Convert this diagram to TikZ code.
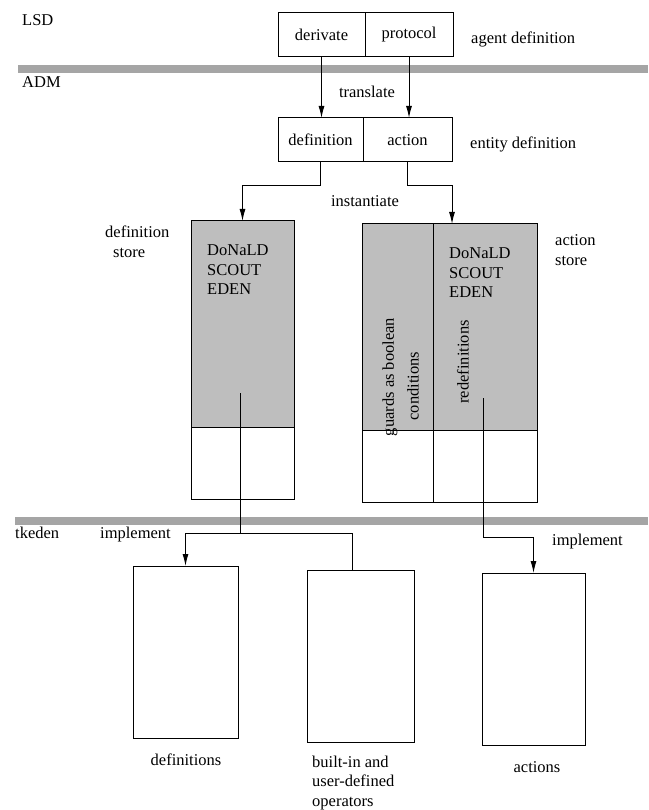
\documentclass[tikz,border=0pt]{standalone}
\usepackage{fontspec}
\setmainfont{Liberation Serif}
\usetikzlibrary{arrows.meta, math, positioning}
\definecolor{mygray}{RGB}{165,165,165}
\definecolor{mystore}{RGB}{190,190,190}

\begin{document}
\begin{tikzpicture}[x=1pt,y=-1pt,
  font=\fontsize{16.5}{19.5}\selectfont,
  box/.style={draw, line width=1, inner sep=0, outer sep=0, minimum height=44pt},
  cell/.style={draw, line width=1, inner sep=0, outer sep=0},
  bigbox/.style={draw, line width=1, inner sep=0, outer sep=0, minimum width=105pt, minimum height=172pt},
  arr/.style={line width=1, -{Latex[length=12pt,width=6pt]}},
  wire/.style={line width=1},
  lbl/.style={inner sep=0, anchor=west, align=left}]
\tikzmath{
\bandh=8;
\shadeh=206;
\whiteh=72;
\drop=24;
}
\useasboundingbox (0,0) rectangle (648,810);

\fill[mygray] (18,65) rectangle (648,65+\bandh);
\fill[mygray] (15,517) rectangle (648,517+\bandh);
\node[lbl] (lsd) at (22,20) {LSD};
\node[lbl] (adm) at (22,82) {ADM};
\node[lbl] (tkeden) at (15,533) {tkeden};

\node[box, minimum width=87pt] (derivate) at (321.5,35) {derivate};
\node[box, minimum width=88pt, right=0pt of derivate] (protocol) {protocol};
\node[lbl] (agentdef) at (471,39) {agent definition};

\node[box, minimum width=85pt] (definition) at (320.5,140) {definition};
\node[box, minimum width=89pt, right=0pt of definition] (action) {action};
\node[lbl] (entitydef) at (470,144) {entity definition};

\draw[arr] (derivate.south) -- (derivate.south |- definition.north);
\draw[arr] (protocol.south) -- (protocol.south |- action.north);
\node (translate) at (367,92) {translate};

\node[cell, fill=mystore, minimum width=103pt, minimum height=\shadeh] (defstoretop) at (242.5,324) {};
\node[cell, minimum width=103pt, minimum height=\whiteh, below=0pt of defstoretop] (defstorebot) {};
\node[lbl] (deflang) at (207,270) {DoNaLD\\SCOUT\\EDEN};
\node[lbl] (defstorelbl) at (105,242) {definition\\\hspace*{8pt}store};

\node[cell, fill=mystore, minimum width=71pt, minimum height=\shadeh] (guardtop) at (397.5,327) {};
\node[cell, minimum width=71pt, minimum height=\whiteh, below=0pt of guardtop] (guardbot) {};
\node[cell, fill=mystore, minimum width=104pt, minimum height=\shadeh, right=0pt of guardtop] (redeftop) {};
\node[cell, minimum width=104pt, minimum height=\whiteh, below=0pt of redeftop] (redefbot) {};
\node[lbl] (actlang) at (449,273) {DoNaLD\\SCOUT\\EDEN};
\node[lbl] (actstorelbl) at (555,250) {action\\store};
\node[rotate=90, inner sep=0] (guards) at (390,377) {guards as boolean};
\node[rotate=90, inner sep=0] (conds) at (413,386) {conditions};
\node[rotate=90, inner sep=0] (redefs) at (463,362) {redefinitions};

\draw[arr] (definition.south) -- ++(0,\drop) -| (defstoretop.north);
\draw[arr] (action.south) -- ++(0,\drop) -| ([xshift=-33pt]redeftop.north);
\node (instantiate) at (365,201) {instantiate};

\node[bigbox] (defbox) at (185.5,652) {};
\node[bigbox, minimum width=107pt] (opbox) at (360.5,656) {};
\node[bigbox, minimum width=103pt] (actbox) at (533.5,659) {};

\coordinate (defout) at (240,393);
\coordinate (actout) at (483,398);
\draw[wire] (defout) -- (240,533) coordinate (impl);
\draw[arr] (impl) -| (defbox.north);
\draw[wire] (impl) -| ([xshift=-8pt]opbox.north);
\draw[arr] (actout) -- (483,537) -| (actbox.north);
\node[lbl] (implL) at (100,535) {implement};
\node[lbl] (implR) at (552,542) {implement};

\node (defslbl) at (186,760) {definitions};
\node[lbl] (opslbl) at (312,783) {built-in and\\user-defined\\operators};
\node (actslbl) at (537,767) {actions};
\end{tikzpicture}
\end{document}
